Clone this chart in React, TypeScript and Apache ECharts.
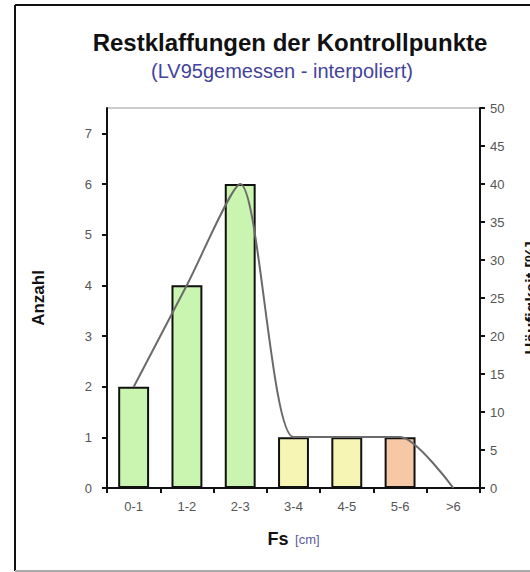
import React, { useEffect, useRef } from "react";
import * as echarts from "echarts";

const categories = ["0-1", "1-2", "2-3", "3-4", "4-5", "5-6", ">6"];
const counts = [2, 4, 6, 1, 1, 1, 0];
const percents = [13.3, 26.7, 40, 6.7, 6.7, 6.7, 0];
const barColors = ["#c9f5b1", "#c9f5b1", "#c9f5b1", "#f6f5b4", "#f6f5b4", "#f7c8a6", "#f7c8a6"];

const FONT = "Liberation Sans, Arial, sans-serif";

export default function App() {
  const ref = useRef<HTMLDivElement>(null);
  useEffect(() => {
    if (!ref.current) return;
    const chart = echarts.init(ref.current, null, { renderer: "svg" });
    chart.setOption({
      animation: false,
      backgroundColor: "#ffffff",
      textStyle: { fontFamily: FONT },
      title: [
        {
          text: "Restklaffungen der Kontrollpunkte",
          left: 285,
          top: 25,
          textAlign: "center",
          textStyle: { fontSize: 24, fontWeight: "bold", color: "#111", fontFamily: FONT },
        },
        {
          text: "(LV95gemessen - interpoliert)",
          left: 277,
          top: 56,
          textAlign: "center",
          textStyle: { fontSize: 20, fontWeight: "normal", color: "#43439a", fontFamily: FONT },
        },
      ],
      grid: {
        left: 107,
        right: 50,
        top: 108,
        height: 380,
        show: true,
        borderColor: "#9a9a9a",
        borderWidth: 1,
        outerBoundsMode: "none",
        containLabel: false,
      },
      xAxis: {
        type: "category",
        data: categories,
        boundaryGap: true,
        name: "{b|Fs}  {n|[cm]}",
        nameLocation: "middle",
        nameGap: 42,
        nameTextStyle: {
          rich: {
            b: { fontSize: 18, fontWeight: "bold", color: "#111", fontFamily: FONT },
            n: { fontSize: 13, color: "#5a5a9a", fontFamily: FONT },
          },
        },
        axisLine: { lineStyle: { color: "#111", width: 2 } },
        axisTick: { show: true, alignWithLabel: false, length: 5, lineStyle: { color: "#111", width: 2 } },
        axisLabel: { color: "#555", fontSize: 13, margin: 12, fontFamily: FONT },
      },
      yAxis: [
        {
          type: "value",
          min: 0,
          max: 7.5,
          interval: 1,
          position: "left",
          name: "Anzahl",
          nameLocation: "middle",
          nameGap: 60,
          nameTextStyle: { fontSize: 17, fontWeight: "bold", color: "#111", fontFamily: FONT },
          axisLine: { show: true, lineStyle: { color: "#111", width: 2 } },
          axisTick: { show: true, length: 5, lineStyle: { color: "#111", width: 2 } },
          axisLabel: {
            color: "#555",
            fontSize: 13,
            margin: 15,
            showMaxLabel: false,
            formatter: (v: number) => (Number.isInteger(v) ? String(v) : ""),
          },
          splitLine: { show: false },
        },
        {
          type: "value",
          min: 0,
          max: 50,
          interval: 5,
          position: "right",
          name: "Häufigkeit [%]",
          nameLocation: "middle",
          nameGap: 43,
          nameRotate: 90,
          nameTextStyle: { fontSize: 17, fontWeight: "bold", color: "#111", fontFamily: FONT },
          axisLine: { show: true, lineStyle: { color: "#111", width: 2 } },
          axisTick: { show: true, length: 5, lineStyle: { color: "#111", width: 2 } },
          axisLabel: { color: "#555", fontSize: 13, margin: 10 },
          splitLine: { show: false },
        },
      ],
      series: [
        {
          type: "bar",
          yAxisIndex: 0,
          data: counts.map((v, i) => ({ value: v, itemStyle: { color: barColors[i] } })),
          barCategoryGap: "42%",
          itemStyle: { borderColor: "#111", borderWidth: 2 },
          z: 2,
        },
        {
          type: "line",
          yAxisIndex: 1,
          data: percents,
          smooth: 0.25,
          showSymbol: false,
          symbol: "none",
          lineStyle: { color: "#6a6a6a", width: 2 },
          z: 3,
        },
      ],
      graphic: [
        { type: "line", shape: { x1: 15, y1: 5, x2: 15, y2: 571 }, style: { stroke: "#111", lineWidth: 2 } },
        { type: "line", shape: { x1: 15, y1: 5, x2: 530, y2: 5 }, style: { stroke: "#111", lineWidth: 2 } },
        { type: "line", shape: { x1: 15, y1: 571, x2: 530, y2: 571 }, style: { stroke: "#aaaaaa", lineWidth: 2 } },
      ],
    });
    return () => chart.dispose();
  }, []);
  return (
    <div
      ref={ref}
      style={{ position: "absolute", left: 0, top: 0, width: 530, height: 572 }}
    />
  );
}
